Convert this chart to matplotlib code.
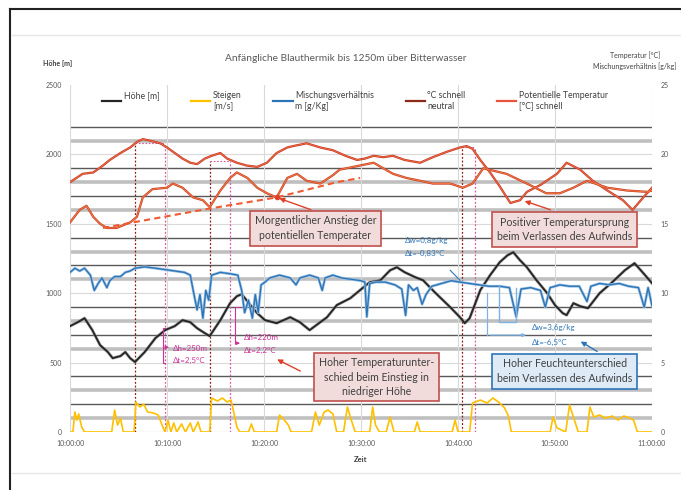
import matplotlib
matplotlib.use('Agg')
import matplotlib.pyplot as plt
from matplotlib.lines import Line2D

plt.rcParams['font.family'] = ['Lato', 'DejaVu Sans']

# Zeit in Minuten nach 10:00:00
hoehe_t = [0, 0.8, 1.5, 2.3, 3.1, 3.9, 4.4, 5.2, 5.7, 6.2, 6.7, 7.7, 8.8, 9.8, 10.8, 11.6, 12.4, 13.1,
           13.9, 14.4, 15.5, 16.5, 17.2, 17.7, 18.6, 19.3, 20.1, 21.3, 22.7, 23.7, 24.7, 25.8, 26.5,
           27.5, 28.9, 29.9, 30.9, 32.0, 33.0, 33.7, 34.5, 35.6, 36.4, 37.6, 39.2, 40.2, 40.7, 41.2,
           42.3, 43.3, 44.3, 45.1, 45.7, 46.4, 47.1, 48.1, 49.2, 50.0, 50.8, 51.2, 51.9, 52.6, 53.4,
           54.6, 55.9, 57.2, 58.2, 59.3, 60.0]
hoehe_m = [763, 791, 820, 734, 626, 576, 532, 547, 576, 532, 504, 576, 676, 734, 763, 806, 791, 748,
           712, 691, 806, 928, 978, 993, 914, 856, 806, 784, 827, 791, 734, 791, 827,
           914, 964, 1022, 1079, 1093, 1165, 1187, 1151, 1115, 1093, 1007, 899, 827, 784, 820,
           1022, 1129, 1223, 1273, 1295, 1237, 1187, 1093, 1000, 914, 856, 842, 928, 906, 892,
           1000, 1079, 1165, 1216, 1129, 1072]

steig_t = [0, 0.3, 0.5, 0.7, 0.9, 1.2, 1.5, 4.3, 4.6, 4.9, 5.2, 5.5, 6.6, 6.8, 7.2, 7.6, 8.0, 8.6,
           9.1, 9.6, 9.8, 10.1, 10.4, 10.7, 11.0, 11.5, 11.9, 12.4, 12.7, 13.2, 13.5, 14.4, 14.6,
           15.2, 15.7, 16.2, 16.6, 16.9, 17.2, 17.5, 18.4, 18.7, 19.0, 21.3, 21.6, 22.1, 22.5, 22.8,
           24.9, 25.3, 25.7, 26.2, 26.6, 27.1, 27.5, 28.2, 28.6, 29.0, 29.4, 30.9, 31.2, 31.5, 31.9,
           32.6, 33.0, 33.4, 35.5, 35.8, 36.1, 39.4, 39.7, 40.0, 41.2, 41.5, 42.3, 43.0, 43.6, 44.3,
           44.8, 45.2, 45.5, 49.5, 49.8, 50.2, 51.1, 51.5, 52.0, 52.4, 53.3, 53.6, 54.0, 54.6, 55.2,
           55.9, 56.5, 57.1, 57.7, 58.1, 58.5, 60.0]
steig_ms = [0, 0, 1.44, 0.86, 1.3, 0.36, 0, 0, 1.58, 0.5, 1.0, 0, 0, 2.16, 1.8, 2.0, 1.44, 1.37,
            1.22, 0.3, 0, 0.86, 0, 0.65, 0, 0.58, 0, 0.65, 0, 0.72, 0, 0, 2.45,
            2.23, 2.45, 2.16, 2.3, 1.37, 0.36, 0, 0, 0.58, 0, 0, 1.22, 0.86, 0.5, 0,
            0, 1.44, 0.5, 1.44, 1.58, 1.3, 0, 0, 1.8, 0.86, 0, 0, 1.8, 0.5, 0,
            0, 1.08, 0, 0, 0.72, 0, 0, 0.86, 0, 0, 2.09, 2.3, 2.09, 2.45, 2.09,
            1.73, 1.15, 0, 0, 1.08, 0.3, 0, 1.94, 0.86, 0, 0, 1.8, 1.08, 1.22, 1.0,
            1.15, 0.86, 1.15, 1.0, 0.86, 0, 0]

misch_t = [0, 0.5, 1.0, 1.5, 2.1, 2.5, 2.9, 3.3, 3.8, 4.1, 4.6, 5.2, 5.7, 6.2, 6.7, 7.7, 8.8, 9.8,
           10.8, 11.8, 12.4, 12.7, 13.1, 13.4, 13.7, 14.0, 14.3, 14.6, 15.5, 16.5, 17.3, 17.7, 18.0,
           18.4, 18.8, 19.1, 19.4, 19.7, 20.1, 20.6, 21.6, 22.7, 23.3, 23.7, 24.7, 25.6, 26.0, 26.3,
           27.1, 28.0, 29.0, 30.0, 30.4, 30.6, 30.9, 31.5, 32.5, 33.5, 34.2, 34.6, 34.9, 35.4, 35.8,
           36.3, 36.7, 37.3, 38.3, 39.3, 40.2, 41.2, 42.2, 43.2, 44.3, 45.3, 46.0, 46.5, 47.5, 48.5,
           49.0, 49.5, 50.5, 51.5, 52.5, 53.3, 53.7, 54.6, 55.6, 56.6, 57.6, 58.6, 59.2, 59.6, 60.0]
misch_gkg = [11.5, 11.8, 11.6, 11.8, 11.3, 10.2, 10.7, 11.1, 10.4, 10.9, 11.2, 11.2, 11.5, 11.6, 11.8,
             11.9, 11.8, 11.7, 11.6, 11.5, 11.3, 10.2, 8.8, 9.9, 8.2, 10.2, 9.5, 11.3, 11.5, 11.4,
             11.3, 10.2, 8.6, 9.5, 8.2, 9.9, 8.6, 10.6, 10.8, 11.1, 11.3, 11.1, 10.6, 11.1, 11.3,
             11.1, 10.2, 11.1, 11.3, 11.1, 11.0, 10.9, 10.8, 8.3, 10.7, 10.8, 10.8, 10.6, 10.3, 8.4,
             10.6, 10.2, 10.4, 9.2, 9.9, 10.5, 10.7, 10.9, 10.8, 10.7, 10.6, 10.5, 10.5, 10.4, 8.3,
             10.3, 10.4, 10.2, 9.0, 10.4, 10.6, 10.5, 10.5, 9.4, 10.5, 10.7, 10.6, 10.7, 10.5, 10.4,
             9.0, 10.4, 9.1]

# Feuchtesprung beim Verlassen des Aufwinds (hellblau)
sprung_t = [44.2, 44.2, 46.0, 46.0]
sprung_gkg = [10.5, 7.9, 7.9, 10.4]

neutral_t = [0, 1.3, 2.4, 3.4, 4.1, 5.2, 6.2, 6.9, 7.5, 8.2, 9.3, 10.0, 10.8, 11.6, 12.4, 13.1, 13.9,
             14.6, 15.5, 16.2, 17.2, 18.2, 19.3, 20.3, 21.3, 22.4, 23.0, 24.4, 25.8, 27.1, 28.4, 29.6,
             30.4, 31.3, 32.3, 33.3, 34.5, 36.1, 37.4, 38.9, 40.2, 40.9, 41.5, 42.3, 43.3, 44.3, 45.4,
             45.9, 46.4, 47.1, 48.5, 50.2, 51.2, 52.6, 53.9, 55.4, 57.0, 58.0, 59.1, 60.0]
neutral_c = [18.0, 18.6, 18.7, 19.2, 19.6, 20.1, 20.5, 20.9, 21.1, 21.0, 20.8, 20.5, 20.1, 19.7, 19.4,
             19.3, 19.7, 19.9, 20.1, 19.7, 19.4, 19.2, 19.1, 19.4, 20.1, 20.5, 20.6, 20.8, 20.5, 20.3,
             19.9, 19.6, 19.7, 19.9, 19.8, 19.9, 19.6, 19.4, 19.8, 20.2, 20.5, 20.6, 20.4, 19.6, 18.7,
             17.7, 16.5, 16.6, 16.7, 17.3, 17.8, 18.6, 19.4, 18.9, 18.1, 17.4, 16.7, 16.0, 16.9, 17.6]

pot_t = [0, 1.0, 1.7, 2.4, 3.1, 3.8, 4.8, 6.2, 6.9, 7.5, 8.5, 10.0, 10.6, 11.6, 12.7, 13.7, 14.4,
         15.5, 16.5, 17.2, 18.3, 19.3, 20.3, 21.3, 22.4, 23.4, 24.4, 25.8, 27.1, 27.8, 29.9, 31.3,
         33.3, 34.7, 36.1, 37.4, 39.2, 40.5, 41.5, 42.6, 45.0, 47.1, 49.1, 50.5, 51.9, 53.3, 55.4,
         57.4, 59.5, 60.0]
pot_c = [15.1, 16.0, 16.3, 15.5, 15.0, 14.7, 14.7, 15.1, 15.5, 16.9, 17.5, 17.6, 17.9, 17.6, 16.9,
         16.7, 16.2, 17.4, 18.3, 18.7, 18.3, 17.6, 17.2, 16.9, 18.3, 18.6, 18.1, 17.9, 18.5, 18.9,
         19.2, 19.4, 18.6, 18.3, 18.1, 17.9, 17.9, 17.6, 17.9, 19.0, 18.6, 17.9, 17.2, 17.2, 17.6,
         18.1, 17.6, 17.4, 17.3, 17.4]

# Trendlinie morgentlicher Anstieg
trend_t = [3.4, 6.5, 14.4, 21.3, 27.5, 29.9]
trend_c = [14.7, 15.1, 16.1, 16.9, 18.0, 18.3]

# Markierte Aufwind-Phasen (Beginn, Ende, Oberkante in m)
phasen = [(6.7, 9.8, 2079), (14.4, 16.5, 1950), (40.4, 41.8, 2050)]

x_ticks = [0, 10, 20, 30, 40, 50, 60]
x_labels = ['10:00:00', '10:10:00', '10:20:00', '10:30:00', '10:40:00', '10:50:00', '11:00:00']

fig = plt.figure(figsize=(6.81, 4.90), dpi=100)

# Rahmen
fig.add_artist(Line2D([0.015, 1.0], [0.981, 0.981], color='#222222', lw=1.5))
fig.add_artist(Line2D([0.015, 0.015], [0.0, 0.981], color='#222222', lw=1.5))
fig.add_artist(Line2D([0.017, 1.0], [0.929, 0.929], color='#e6e6e6', lw=1.0))
fig.add_artist(Line2D([0.017, 1.0], [0.035, 0.035], color='#e6e6e6', lw=1.0))

ax = fig.add_axes([0.1028, 0.1184, 0.8546, 0.7081])
ax.set_xlim(0, 60)
ax.set_ylim(0, 2500)
ax2 = ax.twinx()
ax2.set_ylim(0, 25)

# Gitternetz
for h in range(100, 2300, 100):
    n = h // 100
    if n % 5 == 0:
        ax.axhline(h, color='#d9d9d9', lw=0.8, zorder=0)
    elif n % 5 in (2, 4):
        ax.axhline(h, color='#595959', lw=1.0, zorder=0)
    else:
        ax.axhline(h, color='#bfbfbf', lw=2.6, zorder=0)
for t in x_ticks:
    ax.axvline(t, color='#d9d9d9', lw=0.8, zorder=0)

for a in (ax, ax2):
    for s in a.spines.values():
        s.set_visible(False)
    a.tick_params(length=0, labelsize=5, colors='#595959', pad=6)

ax.set_xticks(x_ticks)
ax.set_xticklabels(x_labels)
ax.set_yticks(range(0, 2501, 500))
ax2.set_yticks(range(0, 26, 5))
ax.set_xlabel('Zeit', fontsize=5.5, color='#404040', fontweight='bold', labelpad=6)

# Aufwind-Phasen
for t0, t1, top in phasen:
    ax.plot([t0, t0], [0, top], color='#8b1a1a', lw=0.9, ls=(0, (1.5, 1.5)), zorder=1)
    ax.plot([t1, t1], [0, top], color='#d65a9c', lw=0.9, ls=(0, (1.5, 1.5)), zorder=1)
    ax.plot([t0, t1], [top, top], color='#d65a9c', lw=0.8, ls=(0, (1.5, 1.5)), zorder=1)
    ax.plot([t0, t1], [0, 0], color='#8b1a1a', lw=0.8, ls=(0, (1.5, 1.5)), zorder=1)

# Datenreihen
ax.plot(hoehe_t, hoehe_m, color='#8c8c8c', lw=2.4, alpha=0.5, zorder=2)
l_hoehe, = ax.plot(hoehe_t, hoehe_m, color='#262626', lw=1.4, zorder=3)
l_steig, = ax2.plot(steig_t, steig_ms, color='#ffc000', lw=1.2, zorder=2)
ax2.plot(misch_t, misch_gkg, color='#9dc3e6', lw=2.0, zorder=2)
l_misch, = ax2.plot(misch_t, misch_gkg, color='#2e75b6', lw=1.0, zorder=3)
ax2.plot(sprung_t, sprung_gkg, color='#7fb2e0', lw=1.0, zorder=3)
ax2.plot(neutral_t, neutral_c, color='#c0392b', lw=1.6, zorder=3)
l_neutral, = ax2.plot(neutral_t, neutral_c, color='#f26a3c', lw=0.7, zorder=4)
ax2.plot(pot_t, pot_c, color='#c63d22', lw=1.6, zorder=3)
l_pot, = ax2.plot(pot_t, pot_c, color='#f57a46', lw=0.7, zorder=4)
ax2.plot(trend_t, trend_c, color='#f05a32', lw=1.5, ls=(0, (3, 2)), zorder=4)
ax2.plot([21.3], [16.9], 'o', color='#e0402a', ms=3, zorder=5)

legend_lines = [Line2D([], [], color='#262626', lw=1.6), Line2D([], [], color='#ffc000', lw=1.6),
                Line2D([], [], color='#2e75b6', lw=1.6), Line2D([], [], color='#8b2a1a', lw=1.6),
                Line2D([], [], color='#e8553a', lw=1.6)]
legend_labels = ['Höhe [m]\n ', 'Steigen\n[m/s]', 'Mischungsverhältnis\nm [g/Kg]', '°C schnell\nneutral',
                 'Potentielle Temperatur\n[°C] schnell']
leg = ax2.legend(legend_lines, legend_labels, ncol=5, loc='upper center', bbox_to_anchor=(0.49, 1.0),
                 frameon=False, fontsize=6.3, handlelength=2.2, columnspacing=3.6, handletextpad=0.3,
                 borderaxespad=0.3)
for txt in leg.get_texts():
    txt.set_color('#404040')

# Textkästen
box_red = dict(boxstyle='square,pad=0.45', fc='#f2dcdb', ec='#c0504d', lw=1.2)
box_blue = dict(boxstyle='square,pad=0.45', fc='#deebf7', ec='#2e75b6', lw=1.2)
arrow_red = dict(arrowstyle='-|>', color='#e0402a', lw=1.0, mutation_scale=7)
arrow_blue = dict(arrowstyle='-|>', color='#2e75b6', lw=1.0, mutation_scale=7)

ax2.annotate('', xy=(21.3, 16.9), xytext=(25.1, 15.95), arrowprops=arrow_red, zorder=6)
ax2.text(25.3, 14.68, 'Morgentlicher Anstieg der\npotentiellen Temperater', ha='center', va='center',
         fontsize=7.6, color='#404040', bbox=box_red, linespacing=1.4, zorder=7)

ax2.annotate('', xy=(46.6, 16.7), xytext=(49.8, 15.95), arrowprops=arrow_red, zorder=6)
ax2.text(51.0, 14.6, 'Positiver Temperatursprung\nbeim Verlassen des Aufwinds', ha='center',
         va='center', fontsize=7.6, color='#404040', bbox=box_red, linespacing=1.4, zorder=7)

ax2.annotate('', xy=(21.1, 5.32), xytext=(24.0, 4.3), arrowprops=arrow_red, zorder=6)
ax2.text(31.6, 3.96, 'Hoher Temperaturunter-\nschied beim Einstieg in\nniedriger Höhe', ha='center',
         va='center', fontsize=7.6, color='#404040', bbox=box_red, linespacing=1.35, zorder=7)

ax2.annotate('', xy=(52.4, 6.62), xytext=(54.6, 5.7), arrowprops=arrow_blue, zorder=6)
ax2.text(51.0, 4.39, 'Hoher Feuchteunterschied\nbeim Verlassen des Aufwinds', ha='center',
         va='center', fontsize=7.6, color='#404040', bbox=box_blue, linespacing=1.4, zorder=7)

# Delta-Beschriftungen
mag = '#cc3399'
ax2.plot([9.8, 9.6, 9.6, 9.8], [7.48, 7.48, 4.96, 4.96], color=mag, lw=0.8, zorder=5)
ax2.annotate('', xy=(10.5, 6.1), xytext=(9.6, 6.1),
             arrowprops=dict(arrowstyle='-|>', color=mag, lw=0.8, mutation_scale=5), zorder=5)
ax2.text(10.6, 6.04, 'Δh=250m', fontsize=5.8, color=mag, va='center', zorder=5)
ax2.text(10.6, 5.18, 'Δt=2,5°C', fontsize=5.8, color=mag, va='center', zorder=5)

ax2.plot([17.5, 17.0, 17.0], [8.99, 8.99, 6.4], color=mag, lw=0.8, zorder=5)
ax2.annotate('', xy=(17.8, 6.4), xytext=(17.0, 6.4),
             arrowprops=dict(arrowstyle='-|>', color=mag, lw=0.8, mutation_scale=5), zorder=5)
ax2.text(17.9, 6.83, 'Δh=220m', fontsize=5.8, color=mag, va='center', zorder=5)
ax2.text(17.9, 5.9, 'Δt=2,2°C', fontsize=5.8, color=mag, va='center', zorder=5)

blue = '#2e75b6'
ax2.plot([39.2, 40.2], [11.65, 10.93], color=blue, lw=0.8, zorder=5)
ax2.text(34.5, 13.81, 'Δw=0,8g/kg', fontsize=5.8, color=blue, va='center', zorder=5)
ax2.text(34.5, 12.88, 'Δt=-0,83°C', fontsize=5.8, color=blue, va='center', zorder=5)
ax2.plot([43.0, 43.0], [10.0, 6.98], color='#7fb2e0', lw=0.9, zorder=5)
ax2.annotate('', xy=(47.3, 6.98), xytext=(43.0, 6.98),
             arrowprops=dict(arrowstyle='-|>', color='#7fb2e0', lw=0.9, mutation_scale=5), zorder=5)
ax2.text(47.6, 7.55, 'Δw=3,6g/kg', fontsize=5.8, color=blue, va='center', zorder=5)
ax2.text(47.6, 6.47, 'Δt=-6,5°C', fontsize=5.8, color=blue, va='center', zorder=5)

# Titel und Achsentitel
fig.text(0.507, 0.881, 'Anfängliche Blauthermik bis 1250m über Bitterwasser', ha='center',
         va='center', fontsize=7.3, color='#595959')
fig.text(0.063, 0.871, 'Höhe [m]', ha='left', va='center', fontsize=5, color='#404040',
         fontweight='bold')
fig.text(0.932, 0.888, 'Temperatur [°C]', ha='center', va='center', fontsize=5, color='#404040')
fig.text(0.932, 0.864, 'Mischungsverhältnis [g/kg]', ha='center', va='center', fontsize=5,
         color='#404040')

fig.savefig('out.png', dpi=100)
